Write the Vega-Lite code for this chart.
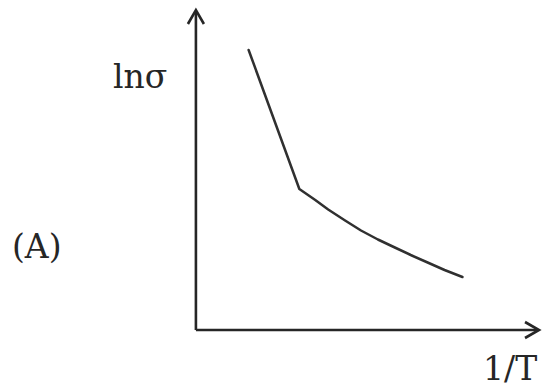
{
  "$schema": "https://vega.github.io/schema/vega-lite/v6.json",
  "width": 545,
  "height": 390,
  "autosize": {"type": "fit", "contains": "padding"},
  "padding": 0,
  "background": "white",
  "config": {"view": {"stroke": null}},
  "datasets": {
    "curve": [
      {"invT": 0.53, "lnSigma": 2.80},
      {"invT": 1.04, "lnSigma": 1.41},
      {"invT": 1.20, "lnSigma": 1.30},
      {"invT": 1.33, "lnSigma": 1.205},
      {"invT": 1.50, "lnSigma": 1.095},
      {"invT": 1.66, "lnSigma": 0.995},
      {"invT": 1.83, "lnSigma": 0.905},
      {"invT": 2.00, "lnSigma": 0.825},
      {"invT": 2.16, "lnSigma": 0.75},
      {"invT": 2.33, "lnSigma": 0.675},
      {"invT": 2.50, "lnSigma": 0.60},
      {"invT": 2.68, "lnSigma": 0.53}
    ],
    "axes": [
      {"x": 0, "y": 0, "x2": 0, "y2": 3.19},
      {"x": 0, "y": 0, "x2": 3.44, "y2": 0}
    ],
    "arrows": [
      {"x": 0, "y": 3.2, "dir": "up"},
      {"x": 3.45, "y": 0, "dir": "right"}
    ],
    "labels": [
      {"x": -0.56, "y": 2.42, "text": "lnσ"},
      {"x": -1.60, "y": 0.72, "text": "(A)"},
      {"x": 3.16, "y": -0.50, "text": "1/T"}
    ]
  },
  "layer": [
    {
      "data": {"name": "axes"},
      "mark": {"type": "rule", "color": "#262626", "strokeWidth": 2.6},
      "encoding": {
        "x": {"field": "x", "type": "quantitative", "scale": {"domain": [-1.97, 3.48], "nice": false, "zero": false}, "axis": null},
        "y": {"field": "y", "type": "quantitative", "scale": {"domain": [-0.6, 3.3], "nice": false, "zero": false}, "axis": null},
        "x2": {"field": "x2"},
        "y2": {"field": "y2"}
      }
    },
    {
      "data": {"name": "arrows"},
      "mark": {"type": "point", "filled": false, "color": "#262626", "strokeWidth": 2.6, "size": 256, "opacity": 1},
      "encoding": {
        "x": {"field": "x", "type": "quantitative"},
        "y": {"field": "y", "type": "quantitative"},
        "shape": {
          "field": "dir",
          "type": "nominal",
          "scale": {"domain": ["up", "right"], "range": ["M-1,1.75L0,0L1,1.75", "M-1.75,-1L0,0L-1.75,1"]},
          "legend": null
        }
      }
    },
    {
      "data": {"name": "curve"},
      "mark": {"type": "line", "color": "#303030", "strokeWidth": 2.5, "strokeJoin": "round", "strokeCap": "round"},
      "encoding": {
        "x": {"field": "invT", "type": "quantitative"},
        "y": {"field": "lnSigma", "type": "quantitative"},
        "order": {"field": "invT"}
      }
    },
    {
      "data": {"name": "labels"},
      "mark": {"type": "text", "font": "DejaVu Serif", "fontSize": 33, "color": "#262626", "align": "center", "baseline": "alphabetic"},
      "encoding": {
        "x": {"field": "x", "type": "quantitative"},
        "y": {"field": "y", "type": "quantitative"},
        "text": {"field": "text"}
      }
    }
  ]
}
